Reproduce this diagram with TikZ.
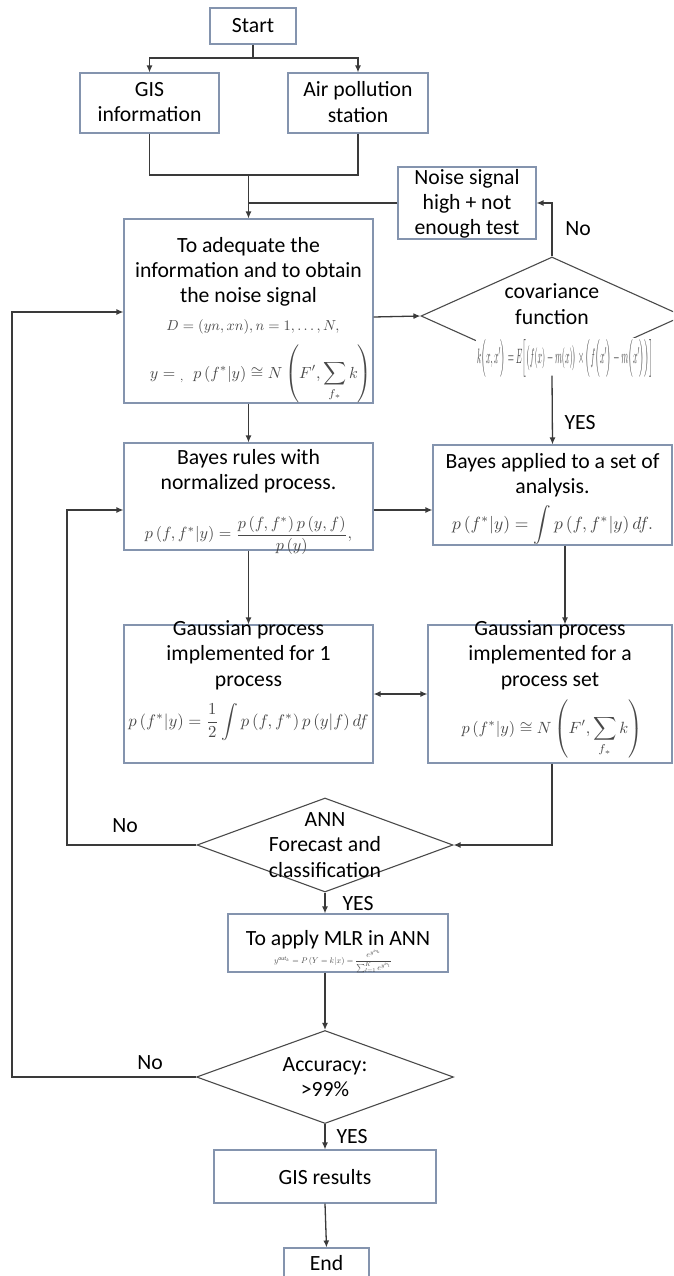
\documentclass[tikz,border=0pt]{standalone}
\usepackage{amsmath,amssymb}
\usepackage{graphicx}
\usepackage{fontspec}
\setmainfont{Carlito}
\usetikzlibrary{arrows.meta,shapes.geometric,calc}
\definecolor{boxc}{HTML}{8494AE}
\definecolor{diac}{HTML}{4A4A4A}
\definecolor{linec}{HTML}{3A3A3A}
\definecolor{mathc}{HTML}{484848}
\begin{document}
\begin{tikzpicture}[x=1pt,y=-1pt,
  box/.style={draw=boxc, line width=1.1pt, rectangle, inner sep=0pt},
  dia/.style={draw=diac, line width=1.1pt, diamond, inner sep=0pt},
  sz/.style 2 args={minimum width=#1pt, minimum height=#2pt},
  conn/.style={draw=linec, line width=1.3pt},
  arr/.style={conn, -{Latex[length=7pt,width=6pt]}},
  darr/.style={conn, {Latex[length=7pt,width=6pt]}-{Latex[length=7pt,width=6pt]}},
  txt/.style={font=\fontsize{21.7}{25.3}\selectfont, align=center, inner sep=0pt, text=black},
  frm/.style={text=mathc, inner sep=0pt}]
\useasboundingbox (0,0) rectangle (673,1276);
\clip (0,0) rectangle (673,1276);

% ---------- shapes ----------
\node[box, sz={86}{36}] (start) at (253,26) {};
\node[box, sz={139}{60}] (gis) at (149.5,103) {};
\node[box, sz={140}{60}] (air) at (358,103) {};
\node[box, sz={138}{72}] (noise) at (467,203) {};
\node[box, sz={249}{184}] (adeq) at (248.5,311) {};
\node[dia, sz={262}{118}] (cov) at (552,316) {};
\node[box, sz={249}{107}] (bay1) at (248.5,496.5) {};
\node[box, sz={239}{100}] (bay2) at (552.5,495) {};
\node[box, sz={249}{138}] (g1) at (248.5,694) {};
\node[box, sz={244}{138}] (g2) at (550,694) {};
\node[dia, sz={256}{94}] (ann) at (325,845) {};
\node[box, sz={220}{58}] (mlr) at (338,943) {};
\node[dia, sz={257}{93}] (acc) at (325,1077) {};
\node[box, sz={222}{53}] (res) at (325,1176.5) {};
\node[box, sz={85}{52}] (end) at (326.5,1274) {};

% ---------- texts ----------
\node[txt] (tstart) at (253,26) {Start};
\node[txt] (tgis) at (149.5,102) {GIS\\information};
\node[txt] (tair) at (358,102) {Air pollution\\station};
\node[txt] (tnoise) at (467,204) {Noise signal\\high + not\\enough test};
\node[txt] (tadeq) at (248.5,272) {To adequate\ the\\information and to obtain\\the noise signal};
\node[frm] (fD) at (253,327) {\resizebox{173pt}{!}{$D=(yn,xn),n=1,\ldots,N,$}};
\node[frm] (fy) at (261,374) {\resizebox{222pt}{!}{$\displaystyle y={}_{,}\;\; p\left(f^{*}|y\right)\cong N\left(F',\sum_{f_*}k\right)$}};
\node[txt] (tcov) at (552,304) {covariance\\function};
\node[frm, fill=white, inner sep=1pt] (fcov) at (565,358) {\resizebox{176pt}{24pt}{$k\Bigl(x,x'\Bigr)=E\Bigl[\bigl(f(x)-m(x)\bigr)\times\Bigl(f\Bigl(x'\Bigr)-m\Bigl(x'\Bigr)\Bigr)\Bigr]$}};
\node[txt] (tbay1) at (248.5,471) {Bayes rules with\\normalized process.};
\node[frm] (fbay1) at (248.5,535) {\resizebox{207pt}{!}{$\displaystyle p\left(f,f^{*}|y\right)=\frac{p\left(f,f^{*}\right)p\left(y,f\right)}{p\left(y\right)},$}};
\node[txt] (tbay2) at (552.5,475) {Bayes applied to a set of\\analysis.};
\node[frm] (fbay2) at (552.5,525) {\resizebox{201pt}{!}{$\displaystyle p\left(f^{*}|y\right)=\int p\left(f,f^{*}|y\right)df.$}};
\node[txt] (tg1) at (248.5,655) {Gaussian process\\implemented for 1\\process};
\node[frm] (fg1) at (248.5,722) {\resizebox{240pt}{!}{$\displaystyle p\left(f^{*}|y\right)=\frac{1}{2}\int p\left(f,f^{*}\right)p\left(y|f\right)df$}};
\node[txt] (tg2) at (550,655) {Gaussian process\\implemented for a\\process set};
\node[frm] (fg2) at (552,729) {\resizebox{181pt}{!}{$\displaystyle p\left(f^{*}|y\right)\cong N\left(F',\sum_{f_*}k\right)$}};
\node[txt] (tann) at (325,845) {ANN\\Forecast and\\classification};
\node[txt] (tmlr) at (338,940) {To apply MLR in ANN};
\node[frm] (fmlr) at (333,961) {\resizebox{118pt}{!}{$y^{\mathit{out}_k}=P\left(Y=k|x\right)=\dfrac{e^{y^{\mathit{in}_k}}}{\sum\nolimits_{l=1}^{K}e^{y^{\mathit{in}_l}}}$}};
\node[txt] (tacc) at (325,1077) {Accuracy:\\>99\%};
\node[txt] (tres) at (325,1177) {GIS results};
\node[txt] (tend) at (326.5,1263) {End};

% labels
\node[txt] (lno1) at (578,229) {No};
\node[txt] (lyes1) at (580,423) {YES};
\node[txt] (lno2) at (125,826) {No};
\node[txt] (lyes2) at (358,904) {YES};
\node[txt] (lno3) at (150,1063) {No};
\node[txt] (lyes3) at (352,1137) {YES};

% ---------- connectors ----------
\coordinate (j1) at (253,58);
\coordinate (j2) at (248.5,175);
\coordinate (r510) at (0,510);
\coordinate (r312) at (0,312);
\coordinate (r318) at (0,317);
\coordinate (l67) at (67,0);
\coordinate (l12) at (12,0);
\coordinate (c565) at (565,0);

\draw[conn] (start.south) -- (j1);
\draw[arr] (j1) -| (gis.north);
\draw[arr] (j1) -| (air.north);
\draw[conn] (gis.south) |- (j2);
\draw[conn] (air.south) |- (j2);
\draw[arr] (j2) -- (adeq.north);
\draw[conn] (noise.west) -- (noise.west -| j2);
\draw[arr] (adeq.east |- r318) -- (cov.west);
\draw[arr] (cov.north) |- (noise.east);
\draw[arr] (cov.south) -- (bay2.north);
\draw[arr] (adeq.south) -- (bay1.north);
\draw[arr] (bay1.east |- r510) -- (bay2.west |- r510);
\draw[arr] (bay1.south) -- (g1.north);
\draw[arr] (bay2.south -| c565) -- (g2.north -| c565);
\draw[darr] (g1.east) -- (g2.west);
\draw[arr] ([xshift=2pt]g2.south) |- (ann.east);
\draw[arr] (ann.west) -- (ann.west -| l67) -- (l67 |- r510) -- (bay1.west |- r510);
\draw[arr] (ann.south) -- (ann.south |- mlr.north);
\draw[arr] (mlr.south -| acc.north) -- (acc.north);
\draw[arr] (acc.south) -- (res.north);
\draw[arr] (res.south) -- (end.north);
\draw[arr] (acc.west) -- (acc.west -| l12) -- (l12 |- r312) -- (adeq.west |- r312);
\end{tikzpicture}
\end{document}
